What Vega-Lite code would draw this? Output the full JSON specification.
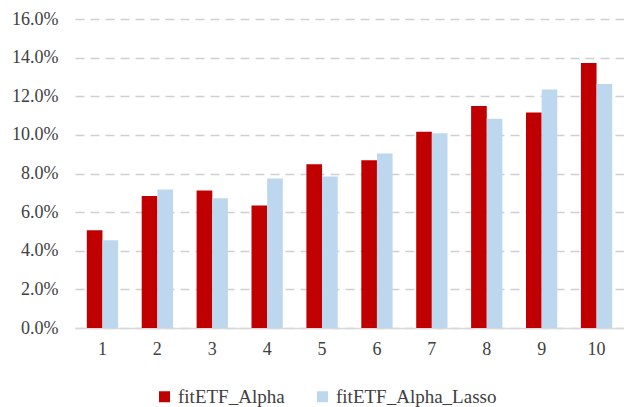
{
  "$schema": "https://vega.github.io/schema/vega-lite/v6.json",
  "width": 549,
  "height": 309,
  "autosize": {"type": "none"},
  "padding": {"left": 75, "top": 19, "right": 0, "bottom": 79},
  "background": "white",
  "config": {
    "view": {"stroke": null},
    "font": "Liberation Serif"
  },
  "data": {
    "values": [
      {"k": "1", "s": "fitETF_Alpha", "v": 0.0506},
      {"k": "1", "s": "fitETF_Alpha_Lasso", "v": 0.0454},
      {"k": "2", "s": "fitETF_Alpha", "v": 0.0684},
      {"k": "2", "s": "fitETF_Alpha_Lasso", "v": 0.0717},
      {"k": "3", "s": "fitETF_Alpha", "v": 0.0712},
      {"k": "3", "s": "fitETF_Alpha_Lasso", "v": 0.0672},
      {"k": "4", "s": "fitETF_Alpha", "v": 0.0634},
      {"k": "4", "s": "fitETF_Alpha_Lasso", "v": 0.0774},
      {"k": "5", "s": "fitETF_Alpha", "v": 0.0848},
      {"k": "5", "s": "fitETF_Alpha_Lasso", "v": 0.0784},
      {"k": "6", "s": "fitETF_Alpha", "v": 0.0869},
      {"k": "6", "s": "fitETF_Alpha_Lasso", "v": 0.0903},
      {"k": "7", "s": "fitETF_Alpha", "v": 0.1016},
      {"k": "7", "s": "fitETF_Alpha_Lasso", "v": 0.1009},
      {"k": "8", "s": "fitETF_Alpha", "v": 0.1150},
      {"k": "8", "s": "fitETF_Alpha_Lasso", "v": 0.1083},
      {"k": "9", "s": "fitETF_Alpha", "v": 0.1116},
      {"k": "9", "s": "fitETF_Alpha_Lasso", "v": 0.1235},
      {"k": "10", "s": "fitETF_Alpha", "v": 0.1372},
      {"k": "10", "s": "fitETF_Alpha_Lasso", "v": 0.1263}
    ]
  },
  "mark": {"type": "bar"},
  "encoding": {
    "x": {
      "field": "k",
      "type": "ordinal",
      "sort": null,
      "scale": {"paddingInner": 0.43, "paddingOuter": 0.215},
      "axis": {
        "title": null,
        "labelAngle": 0,
        "ticks": false,
        "domainColor": "#d9d9d9",
        "domainWidth": 1.5,
        "labelFontSize": 18,
        "labelColor": "#404040",
        "labelPadding": 12,
        "grid": false
      }
    },
    "xOffset": {"field": "s", "type": "nominal", "scale": {"padding": 0}},
    "y": {
      "field": "v",
      "type": "quantitative",
      "scale": {"domain": [0, 0.16], "nice": false},
      "axis": {
        "title": null,
        "format": ".1%",
        "values": [0, 0.02, 0.04, 0.06, 0.08, 0.1, 0.12, 0.14, 0.16],
        "domain": false,
        "ticks": false,
        "labelFontSize": 18,
        "labelColor": "#404040",
        "labelPadding": 17,
        "gridColor": "#d0d0d0",
        "gridWidth": 1.5,
        "gridDash": [9, 6]
      }
    },
    "color": {
      "field": "s",
      "type": "nominal",
      "scale": {"domain": ["fitETF_Alpha", "fitETF_Alpha_Lasso"], "range": ["#C00000", "#BDD7EE"]},
      "legend": {
        "title": null,
        "orient": "none",
        "direction": "horizontal",
        "legendX": 80,
        "legendY": 368,
        "symbolType": "square",
        "symbolSize": 121,
        "symbolStrokeWidth": 0,
        "labelFontSize": 19,
        "labelLimit": 400,
        "labelColor": "#404040",
        "labelOffset": 4,
        "columnPadding": 28
      }
    }
  }
}
